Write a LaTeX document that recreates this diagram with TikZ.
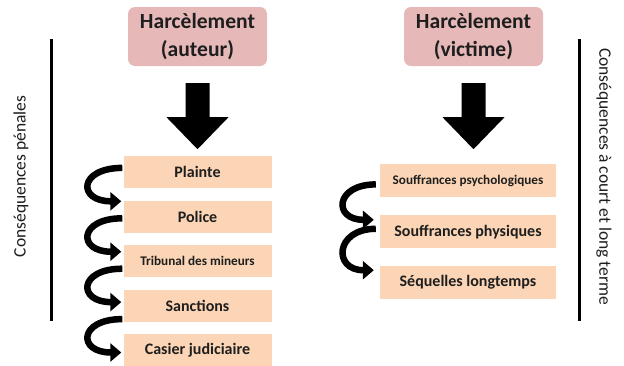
\documentclass[tikz,border=0pt]{standalone}
\usepackage{fontspec}
\setmainfont{Carlito}
\usetikzlibrary{positioning, arrows.meta}
\definecolor{rosebox}{RGB}{230,185,184}
\definecolor{pechebox}{RGB}{251,213,181}
\definecolor{textegris}{RGB}{30,30,30}
\tikzset{
    titlebox/.style={
        rectangle,
        rounded corners=7pt,
        fill=rosebox, % rose pale
        minimum width=139pt,
        minimum height=59pt,
        align=center,
        text=textegris,
        font=\bfseries\fontsize{21.6}{28}\selectfont
    },
    stepbox/.style={
        rectangle,
        fill=pechebox, % orange pale
        minimum width=148pt,
        minimum height=32pt,
        inner sep=0,
        text=textegris,
        font=\bfseries\fontsize{16}{18}\selectfont
    },
    smalltext/.style={
        font=\bfseries\fontsize{13.2}{15}\selectfont
    },
    sidelabel/.style={
        text=textegris,
        font=\fontsize{17.5}{20}\selectfont
    },
    sideline/.style={
        line width=3pt
    },
    curvearrow/.style={
        line width=6.5pt,
        -{Triangle[width=18pt,length=11pt]}
    }
}

\begin{document}
\begin{tikzpicture}[x=1pt, y=-1pt]
    \useasboundingbox (0,0) rectangle (624,365);

    % titres
    \node[titlebox] (auteur) at (197.5,36.5) {Harcèlement\\(auteur)};
    \node[titlebox] (victime) at (473.5,36.5) {Harcèlement\\(victime)};

    % grosses flèches
    \coordinate[below=17pt of auteur] (flecheA);
    \coordinate[below=17pt of victime] (flecheV);
    \foreach \f in {flecheA, flecheV}
        \fill (\f) ++(-12,0) -- ++(24,0) -- ++(0,34) -- ++(19,0)
            -- ++(-31,32) -- ++(-31,-32) -- ++(19,0) -- cycle;

    % conséquences pénales
    \node[stepbox, below=73pt of flecheA] (plainte) {Plainte};
    \node[stepbox, below=12pt of plainte] (police) {Police};
    \node[stepbox, smalltext, below=12pt of police] (tribunal) {Tribunal des mineurs};
    \node[stepbox, below=12pt of tribunal] (sanctions) {Sanctions};
    \node[stepbox, below=12pt of sanctions] (casier) {Casier judiciaire};

    \foreach \a/\b/\s/\e in {plainte/police/4.5/15.5, police/tribunal/-1.5/9.5,
                             tribunal/sanctions/-7.5/3.5, sanctions/casier/-13.5/-2.5}
        \draw[curvearrow] ([xshift=-1pt,yshift=\s pt]\a.west)
            .. controls +(-44,0) and +(-44,0) .. ([xshift=-2pt,yshift=\e pt]\b.west);

    \draw[sideline] (51,39) -- (51,321);
    \node[sidelabel, rotate=90] (penales) at (21,176.5) {Conséquences pénales};

    % conséquences pour la victime
    \node[stepbox, smalltext, minimum width=176pt, minimum height=33pt,
          below=81pt of flecheV, xshift=-5.5pt] (psycho) {Souffrances psychologiques};
    \node[stepbox, minimum width=176pt, minimum height=33pt,
          below=17.5pt of psycho] (physiques) {Souffrances physiques};
    \node[stepbox, minimum width=176pt, minimum height=33pt,
          below=17.5pt of physiques] (sequelles) {Séquelles longtemps};

    \foreach \a/\b/\s/\e in {psycho/physiques/-3.5/12, physiques/sequelles/3/12.5}
        \draw[curvearrow] ([xshift=-4pt,yshift=\s pt]\a.west)
            .. controls +(-41,0) and +(-41,0) .. ([xshift=-6pt,yshift=\e pt]\b.west);

    \draw[sideline] (579,39) -- (579,321);
    \node[sidelabel, rotate=-90] (terme) at (604,176.5) {Conséquences à court et long terme};
\end{tikzpicture}
\end{document}
